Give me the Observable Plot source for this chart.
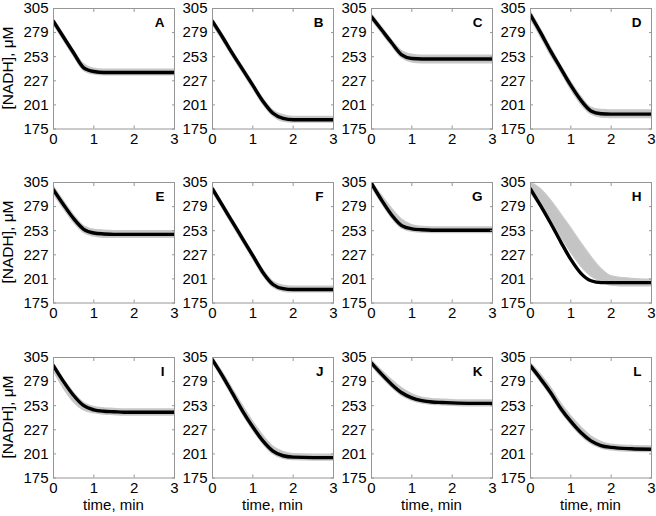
<!DOCTYPE html>
<html><head><meta charset="utf-8">
<script src="https://cdn.jsdelivr.net/npm/d3@7"></script>
<script src="https://cdn.jsdelivr.net/npm/@observablehq/plot@0.6"></script>
<style>
body{margin:0;background:#fff;font-family:"Liberation Sans",Arial,sans-serif;color:#000;}
#chart{position:relative;width:656px;height:516px;overflow:hidden;background:#fff;}
#chart svg{position:absolute;overflow:visible;background:transparent;}
.ylab{position:absolute;font-size:15.5px;line-height:16px;white-space:nowrap;width:120px;text-align:center;transform:translate(-50%,-50%) rotate(-90deg);}
.xlab{position:absolute;font-size:15px;line-height:15px;white-space:nowrap;width:120px;text-align:center;transform:translateX(-50%);}
</style>
</head><body>
<div id="chart"></div>
<script>
// ---- data ----
const panelLabels = ["A","B","C","D","E","F","G","H","I","J","K","L"];
const times = [0, 0.25, 0.5, 0.75, 1, 1.25, 1.5, 1.75, 2, 2.5, 3];
const yTicks = [175, 201, 227, 253, 279, 305];
const xTicks = [0, 1, 2, 3];

// fitted model curves (black), NADH in µM at each time
const fitCurves = [
  [291, 274, 257, 241, 237, 236, 236, 236, 236, 236, 236],               // A
  [291, 274, 256, 239, 222, 205, 192, 186.5, 185, 185, 185],             // B
  [296, 282, 268, 255, 251, 250.5, 250.5, 250.5, 250.5, 250.5, 250.5],   // C
  [298, 279, 259, 240.5, 222, 206, 194.5, 191.5, 191, 191, 191],         // D
  [297, 281, 266, 254.5, 250.5, 249.5, 249, 249, 249, 249, 249],         // E
  [298, 280, 262, 244, 226, 208, 195, 190.5, 189.5, 189.5, 189.5],       // F
  [304, 286, 270, 258.5, 255, 254, 253.5, 253.5, 253.5, 253.5, 253.5],   // G
  [298, 280, 261, 241, 222, 207, 199, 197, 197, 197, 197],               // H
  [296, 279, 264, 253, 248.5, 247, 246.5, 246, 246, 246, 246],           // I
  [302.5, 285, 266, 247, 230, 215, 204, 199, 197.5, 197, 197],           // J
  [299, 287, 276, 267, 261.5, 258.5, 257, 256.5, 256, 255.5, 255.5],     // K
  [296, 282, 267, 250, 236, 224, 215, 210, 208, 206.5, 206]              // L
];
// measured data spread (grey): lower edge
const dataLow = [
  [288, 271, 254, 238, 234, 233, 233, 233, 233, 233, 233],
  [288, 271, 253, 236, 219, 202, 189, 183, 182, 182, 182],
  [293, 279, 265, 252, 247, 246, 246, 246, 246, 246, 246],
  [294, 275, 255, 237, 218, 202, 191, 187.5, 187, 187, 187],
  [293, 277, 262, 251, 247, 245.5, 245.5, 245.5, 245.5, 245.5, 245.5],
  [295, 277, 259, 241, 223, 205, 192, 187.5, 186.5, 186.5, 186.5],
  [301, 283, 267, 255.5, 252, 251, 250.5, 250.5, 250.5, 250.5, 250.5],
  [294, 279, 264, 247, 230, 215, 204, 198, 194, 193, 193],
  [291, 272, 257, 248, 245, 243.5, 243, 242.5, 242.5, 242.5, 242.5],
  [300, 282, 263, 244, 227, 212, 201, 196, 194.5, 194, 194],
  [296, 284, 273, 264, 258.5, 255.5, 254, 253.5, 253, 252.5, 252.5],
  [293, 279, 264, 247, 233, 221, 212, 207, 205, 203.5, 203]
];
// measured data spread (grey): upper edge
const dataHigh = [
  [294, 277, 260, 245, 240, 239, 239, 239, 239, 239, 239],
  [294, 277, 259, 242, 225, 208, 195, 190, 188, 188, 188],
  [299, 285, 271, 259, 255, 254, 254, 254, 254, 254, 254],
  [302, 283, 263, 244, 226, 210, 198, 195.5, 195, 195, 195],
  [301, 285, 270, 258, 254, 253, 252.5, 252.5, 252.5, 252.5, 252.5],
  [301, 283, 265, 247, 229, 211, 198, 193.5, 192.5, 192.5, 192.5],
  [306, 291, 277, 265, 259, 257, 256.5, 256.5, 256.5, 256.5, 256.5],
  [305, 298, 286, 271, 256, 240, 225, 212, 204, 201, 200],
  [299, 282, 267, 256, 251.5, 250, 249.5, 249, 249, 249, 249],
  [305, 289, 271, 253, 236, 221, 209, 203, 200.5, 200, 200],
  [302, 291, 281, 272, 265.5, 261.5, 260, 259.5, 259, 258.5, 258.5],
  [299, 287, 273, 256, 242, 230, 220, 214, 211, 209.5, 209]
];

// ---- layout ----
const colLefts = [53, 212, 371, 530];
const rowTops = [8, 182, 356.5];
const plotW = 121, plotH = 120.5;
const mL = 40, mR = 10, mT = 8, mB = 26;
const frameColor = "#969696";

const chart = document.getElementById("chart");

panelLabels.forEach((lab, i) => {
  const r = Math.floor(i / 4), c = i % 4;
  const rows = times.map((t, k) => ({t, fit: fitCurves[i][k], lo: dataLow[i][k], hi: dataHigh[i][k]}));
  const svg = Plot.plot({
    width: mL + plotW + mR,
    height: mT + plotH + mB,
    marginLeft: mL, marginRight: mR, marginTop: mT, marginBottom: mB,
    style: {fontFamily: "'Liberation Sans', Arial, sans-serif", fontSize: "15px", background: "transparent", overflow: "visible"},
    x: {domain: [0, 3]},
    y: {domain: [175, 305]},
    marks: [
      Plot.areaY(rows, {x: "t", y1: "lo", y2: "hi", curve: "monotone-x", fill: "#c4c4c4", stroke: "#c8c8c8", strokeWidth: 1.5, clip: true}),
      Plot.line(rows, {x: "t", y: "fit", curve: "monotone-x", stroke: "#000", strokeWidth: 3.4, clip: true}),
      Plot.axisX(xTicks, {anchor: "bottom", tickSize: 0, tickPadding: 4, label: null, fill: "#000"}),
      Plot.axisY(yTicks, {anchor: "left", tickSize: 0, tickPadding: 5, label: null, fill: "#000"}),
      Plot.axisX(xTicks, {anchor: "bottom", tickSize: -3, tickFormat: () => "", label: null, stroke: frameColor}),
      Plot.axisX(xTicks, {anchor: "top", tickSize: -3, tickFormat: () => "", label: null, stroke: frameColor}),
      Plot.axisY(yTicks, {anchor: "left", tickSize: -3, tickFormat: () => "", label: null, stroke: frameColor}),
      Plot.axisY(yTicks, {anchor: "right", tickSize: -3, tickFormat: () => "", label: null, stroke: frameColor}),
      Plot.frame({stroke: frameColor}),
      Plot.text([lab], {frameAnchor: "top-right", dx: -10, dy: 9, fontWeight: "bold", fontSize: 13.5, fill: "#000"})
    ]
  });
  svg.style.left = (colLefts[c] - mL) + "px";
  svg.style.top = (rowTops[r] - mT) + "px";
  chart.appendChild(svg);
});

rowTops.forEach(top => {
  const d = document.createElement("div");
  d.className = "ylab";
  d.textContent = "[NADH], \u03bcM";
  d.style.left = "8px";
  d.style.top = (top + plotH / 2) + "px";
  chart.appendChild(d);
});
colLefts.forEach(left => {
  const d = document.createElement("div");
  d.className = "xlab";
  d.textContent = "time, min";
  d.style.left = (left + plotW / 2) + "px";
  d.style.top = "497px";
  chart.appendChild(d);
});
</script>
</body></html>
